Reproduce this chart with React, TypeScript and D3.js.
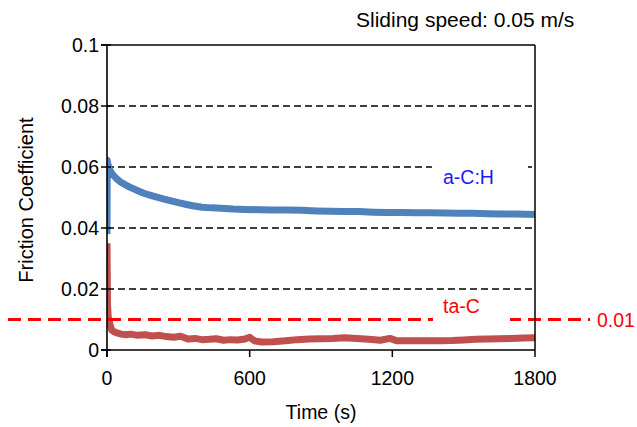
import React from 'react';
import * as d3 from 'd3';

// a-C:H friction trace
const achTime = [0, 1, 3, 8, 15, 25, 40, 55, 70, 90, 110, 130, 155, 180, 210, 240, 270, 300, 330, 360, 400, 440, 480, 530, 580, 640, 700, 760, 820, 880, 940, 1000, 1060, 1120, 1180, 1240, 1300, 1360, 1420, 1480, 1540, 1600, 1660, 1720, 1760, 1800];
const achValue = [0.038, 0.0622, 0.0612, 0.0598, 0.0585, 0.0574, 0.0562, 0.0552, 0.0545, 0.0536, 0.0529, 0.0522, 0.0514, 0.0508, 0.0501, 0.0495, 0.0489, 0.0483, 0.0478, 0.0473, 0.0468, 0.0466, 0.0465, 0.0462, 0.0461, 0.046, 0.0459, 0.0459, 0.0458, 0.0456, 0.0455, 0.0454, 0.0454, 0.0452, 0.0451, 0.0451, 0.045, 0.045, 0.0449, 0.0448, 0.0448, 0.0447, 0.0446, 0.0446, 0.0445, 0.0444];

// ta-C friction trace
const tacTime = [0, 2, 5, 10, 20, 30, 45, 60, 80, 100, 130, 160, 190, 220, 250, 280, 310, 340, 370, 400, 430, 460, 490, 520, 550, 580, 600, 620, 650, 700, 750, 800, 850, 900, 950, 1000, 1050, 1100, 1150, 1190, 1220, 1260, 1300, 1350, 1400, 1450, 1500, 1550, 1600, 1650, 1700, 1750, 1800];
const tacValue = [0.035, 0.015, 0.011, 0.009, 0.0065, 0.006, 0.0055, 0.0052, 0.005, 0.0052, 0.0048, 0.005, 0.0046, 0.0048, 0.0044, 0.0042, 0.0045, 0.0036, 0.0038, 0.0034, 0.0035, 0.0037, 0.0032, 0.0034, 0.0033, 0.0036, 0.0042, 0.003, 0.0026, 0.0027, 0.003, 0.0034, 0.0036, 0.0037, 0.0038, 0.004, 0.0038, 0.0035, 0.0032, 0.0038, 0.003, 0.003, 0.003, 0.003, 0.003, 0.0031, 0.0033, 0.0035, 0.0036, 0.0037, 0.0038, 0.0039, 0.004];

const xTicks = [0, 600, 1200, 1800];
const yTicks = [0, 0.02, 0.04, 0.06, 0.08, 0.1];
const gridValues = [0.02, 0.04, 0.06, 0.08];
const referenceLevel = 0.01;

const W = 637;
const H = 427;
const font = 'Liberation Sans, Arial, sans-serif';

export default function App() {
  const left = 107, right = 535, top = 45, bottom = 350;
  const x = d3.scaleLinear().domain([0, 1800]).range([left, right]);
  const y = d3.scaleLinear().domain([0, 0.1]).range([bottom, top]);

  const line = d3.line<[number, number]>()
    .x(d => x(d[0]))
    .y(d => y(d[1]));

  const ach = line(achTime.map((t, i) => [t, achValue[i]] as [number, number])) || '';
  const tac = line(tacTime.map((t, i) => [t, tacValue[i]] as [number, number])) || '';

  const refY = y(referenceLevel);

  return (
    <div style={{ position: 'absolute', left: 0, top: 0 }}>
      <svg width={W} height={H} style={{ display: 'block', background: '#fff' }}>
        <defs>
          <clipPath id="plot">
            <rect x={left} y={top} width={right - left} height={bottom - top} />
          </clipPath>
        </defs>

        {/* dashed gridlines */}
        {gridValues.map(v => (
          <line key={v} x1={left} x2={right} y1={y(v)} y2={y(v)}
            stroke="#000" strokeWidth={1.6} strokeDasharray="7,4" />
        ))}

        {/* series */}
        <g clipPath="url(#plot)">
          <path d={ach} fill="none" stroke="#4f81bd" strokeWidth={7} strokeLinejoin="round" />
          <path d={tac} fill="none" stroke="#c0504d" strokeWidth={7} strokeLinejoin="round" />
        </g>

        {/* 0.01 reference line */}
        <line x1={8} x2={590} y1={refY} y2={refY} stroke="#ff0000" strokeWidth={2.8} strokeDasharray="13,7" />

        {/* frame */}
        <line x1={left - 6} x2={right} y1={top} y2={top} stroke="#000" strokeWidth={1.5} />
        <line x1={right} x2={right} y1={top} y2={bottom} stroke="#000" strokeWidth={1.5} />
        <line x1={left} x2={left} y1={top} y2={bottom + 7} stroke="#000" strokeWidth={1.6} />
        <line x1={left - 6} x2={right} y1={bottom} y2={bottom} stroke="#000" strokeWidth={1.6} />

        {yTicks.map(v => (
          <g key={v}>
            <line x1={left - 6} x2={left + 4} y1={y(v)} y2={y(v)} stroke="#000" strokeWidth={1.5} />
            <text x={99} y={y(v)} dy="0.36em" textAnchor="end" fontFamily={font} fontSize={19.5} fill="#000">
              {v === 0 ? '0' : String(v)}
            </text>
          </g>
        ))}
        {xTicks.map(v => (
          <g key={v}>
            <line x1={x(v)} x2={x(v)} y1={bottom} y2={bottom + 7} stroke="#000" strokeWidth={1.5} />
            <text x={x(v)} y={385} textAnchor="middle" fontFamily={font} fontSize={19.5} fill="#000">{v}</text>
          </g>
        ))}

        {/* series labels with white boxes */}
        <rect x={432} y={160} width={96} height={30} fill="#fff" />
        <text x={443} y={184} fontFamily={font} fontSize={19.5} fill="#1a1aff">a-C:H</text>
        <rect x={433} y={295} width={77} height={28} fill="#fff" />
        <text x={443} y={313} fontFamily={font} fontSize={19.5} fill="#ff0000">ta-C</text>
        <text x={597} y={refY} dy="0.36em" fontFamily={font} fontSize={19.5} fill="#ff0000">0.01</text>

        {/* titles */}
        <text x={356} y={27} fontFamily={font} fontSize={21} fill="#000">Sliding speed: 0.05 m/s</text>
        <text x={321} y={419} textAnchor="middle" fontFamily={font} fontSize={19.5} fill="#000">Time (s)</text>
        <text transform="translate(33,200) rotate(-90)" textAnchor="middle"
          fontFamily={font} fontSize={20} fill="#000">Friction Coefficient</text>
      </svg>
    </div>
  );
}
